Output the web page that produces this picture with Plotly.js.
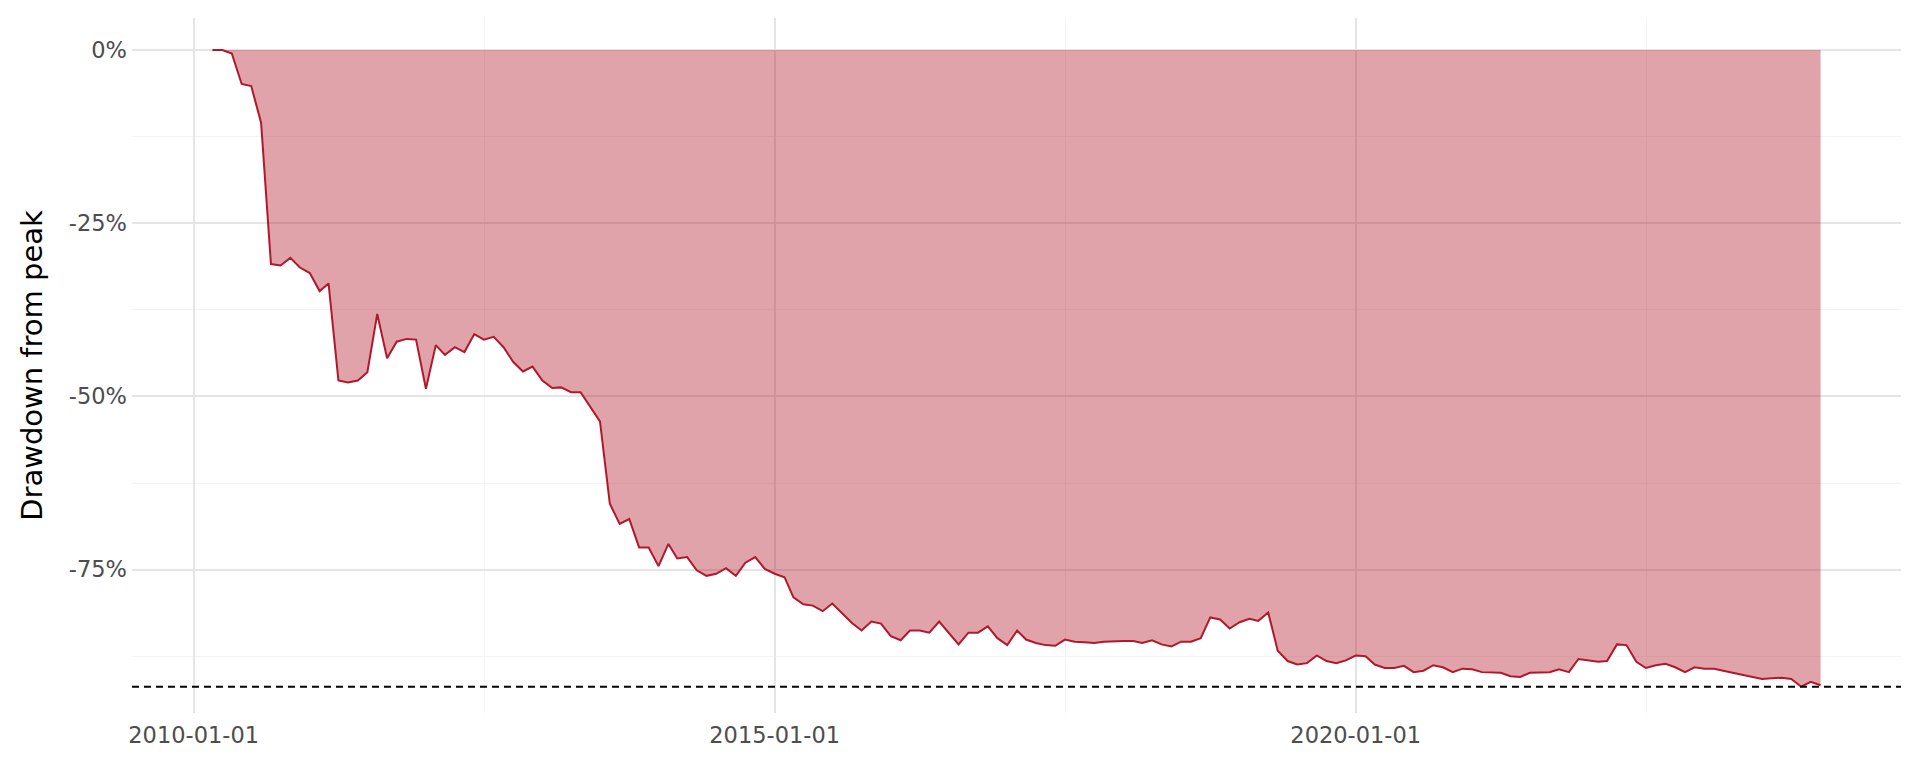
<!DOCTYPE html>
<html>
<head>
<meta charset="utf-8">
<script src="https://cdn.plot.ly/plotly-3.0.1.min.js"></script>
<style>
  html, body { margin: 0; padding: 0; background: #ffffff; }
  #chart { width: 1919px; height: 767px; }
</style>
</head>
<body>
<div id="chart"></div>
<script>
// ---- data (monthly drawdown from peak, %) ----
const months = [
  "2010-03","2010-04","2010-05","2010-06","2010-07","2010-08","2010-09","2010-10","2010-11","2010-12",
  "2011-01","2011-02","2011-03","2011-04","2011-05","2011-06","2011-07","2011-08","2011-09","2011-10","2011-11","2011-12",
  "2012-01","2012-02","2012-03","2012-04","2012-05","2012-06","2012-07","2012-08","2012-09","2012-10","2012-11","2012-12",
  "2013-01","2013-02","2013-03","2013-04","2013-05","2013-06","2013-07","2013-08","2013-09","2013-10","2013-11","2013-12",
  "2014-01","2014-02","2014-03","2014-04","2014-05","2014-06","2014-07","2014-08","2014-09","2014-10","2014-11","2014-12",
  "2015-01","2015-02","2015-03","2015-04","2015-05","2015-06","2015-07","2015-08","2015-09","2015-10","2015-11","2015-12",
  "2016-01","2016-02","2016-03","2016-04","2016-05","2016-06","2016-07","2016-08","2016-09","2016-10","2016-11","2016-12",
  "2017-01","2017-02","2017-03","2017-04","2017-05","2017-06","2017-07","2017-08","2017-09","2017-10","2017-11","2017-12",
  "2018-01","2018-02","2018-03","2018-04","2018-05","2018-06","2018-07","2018-08","2018-09","2018-10","2018-11","2018-12",
  "2019-01","2019-02","2019-03","2019-04","2019-05","2019-06","2019-07","2019-08","2019-09","2019-10","2019-11","2019-12",
  "2020-01","2020-02","2020-03","2020-04","2020-05","2020-06","2020-07","2020-08","2020-09","2020-10","2020-11","2020-12",
  "2021-01","2021-02","2021-03","2021-04","2021-05","2021-06","2021-07","2021-08","2021-09","2021-10","2021-11","2021-12",
  "2022-01","2022-02","2022-03","2022-04","2022-05","2022-06","2022-07","2022-08","2022-09","2022-10","2022-11","2022-12",
  "2023-01","2023-02","2023-03","2023-04","2023-05","2023-06","2023-07","2023-08","2023-09","2023-10","2023-11","2023-12",
  "2024-01"
];

const drawdown = [
  0, 0, -0.5, -4.9, -5.2, -10.5, -30.9, -31.1, -30.0, -31.4,
  -32.2, -34.8, -33.7, -47.7, -48.0, -47.7, -46.5, -38.1, -44.5, -42.1, -41.7, -41.8,
  -48.9, -42.6, -44.0, -42.9, -43.6, -41.0, -41.8, -41.4, -42.9, -45.0, -46.4, -45.7,
  -47.7, -48.8, -48.7, -49.4, -49.4, -51.6, -53.6, -65.5, -68.4, -67.7, -71.8, -71.8,
  -74.5, -71.3, -73.4, -73.2, -75.1, -75.9, -75.6, -74.8, -75.9, -74.0, -73.2, -74.9,
  -75.6, -76.1, -79.0, -80.0, -80.2, -81.0, -79.9, -81.3, -82.7, -83.8, -82.5, -82.8,
  -84.6, -85.2, -83.8, -83.8, -84.1, -82.5, -84.1, -85.8, -84.1, -84.1, -83.2, -84.9,
  -85.9, -83.8, -85.1, -85.6, -85.9, -86.0, -85.1, -85.4, -85.5, -85.6, -85.4, -85.3,
  -85.3, -85.3, -85.6, -85.2, -85.8, -86.1, -85.4, -85.4, -84.9, -81.9, -82.2, -83.5,
  -82.6, -82.1, -82.4, -81.2, -86.7, -88.2, -88.7, -88.5, -87.4, -88.2, -88.5, -88.1,
  -87.4, -87.5, -88.7, -89.2, -89.2, -88.9, -89.8, -89.6, -88.8, -89.1, -89.8, -89.3,
  -89.4, -89.8, -89.8, -89.9, -90.4, -90.5, -89.9, -89.8, -89.8, -89.4, -89.8, -87.9,
  -88.1, -88.3, -88.2, -85.8, -85.9, -88.3, -89.2, -88.8, -88.6, -89.1, -89.8, -89.1,
  -89.3, -89.3, -89.6, -89.9, -90.3, -90.5, -90.8, -90.7, -90.6, -90.8, -91.9, -91.2,
  -91.7
];

// ---- axis ticks ----
const xTickVals = ["2010-01-01", "2015-01-01", "2020-01-01"];
const xTickText = ["2010-01-01", "2015-01-01", "2020-01-01"];
const xMinorVals = ["2012-07-02", "2017-07-02", "2022-07-02"];
const yTickVals = [0, -25, -50, -75];
const yTickText = ["0%", "-25%", "-50%", "-75%"];
const yMinorVals = [-12.5, -37.5, -62.5, -87.5];
const yRange = [-95.7, 4.62];
const yTitle = "Drawdown from peak";

// ---- x range with 5% expansion (ggplot style) ----
const maxDD = Math.min(...drawdown);
const t0 = new Date(months[0] + "-01T00:00:00Z").getTime();
const t1 = new Date(months[months.length - 1] + "-01T00:00:00Z").getTime();
const tPad = (t1 - t0) * 0.05;
const xRange = [new Date(t0 - tPad).toISOString(), new Date(t1 + tPad).toISOString()];

const red = "#B2182B";
const gridMajor = "#E5E5E5";
const gridMinor = "#F4F4F4";
const tickFont = { family: "DejaVu Sans", size: 22.5, color: "#4D4D4D" };

const traces = [{
  type: "scatter",
  mode: "lines",
  x: months,
  y: drawdown,
  fill: "tozeroy",
  fillcolor: "rgba(178,24,43,0.4)",
  line: { color: red, width: 2 },
  hoverinfo: "skip",
  showlegend: false
}];

const layout = {
  width: 1919,
  height: 767,
  margin: { l: 132, r: 18, t: 18, b: 54, pad: 0 },
  paper_bgcolor: "#ffffff",
  plot_bgcolor: "#ffffff",
  showlegend: false,
  font: { family: "DejaVu Sans", color: "#4D4D4D" },
  xaxis: {
    type: "date",
    range: xRange,
    tickmode: "array",
    tickvals: xTickVals,
    ticktext: xTickText,
    tickfont: tickFont,
    ticks: "",
    ticklabelstandoff: 6,
    showgrid: true,
    gridcolor: gridMajor,
    gridwidth: 2,
    zeroline: false,
    showline: false,
    minor: { tickmode: "array", tickvals: xMinorVals, showgrid: true, gridcolor: gridMinor, gridwidth: 1, ticks: "" }
  },
  yaxis: {
    range: yRange,
    tickmode: "array",
    tickvals: yTickVals,
    ticktext: yTickText,
    tickfont: tickFont,
    ticks: "",
    ticklabelstandoff: 4,
    showgrid: true,
    gridcolor: gridMajor,
    gridwidth: 2,
    zeroline: false,
    showline: false,
    automargin: false,
    minor: { tickmode: "array", tickvals: yMinorVals, showgrid: true, gridcolor: gridMinor, gridwidth: 1, ticks: "" },
    title: { text: yTitle, font: { family: "DejaVu Sans", size: 29, color: "#000000" }, standoff: 17 }
  },
  shapes: [{
    type: "line",
    xref: "paper", x0: 0, x1: 1,
    yref: "y", y0: maxDD, y1: maxDD,
    line: { color: "#000000", width: 2, dash: "7px,5px" },
    layer: "above"
  }]
};

Plotly.newPlot("chart", traces, layout, { displayModeBar: false, staticPlot: true });
</script>
</body>
</html>
